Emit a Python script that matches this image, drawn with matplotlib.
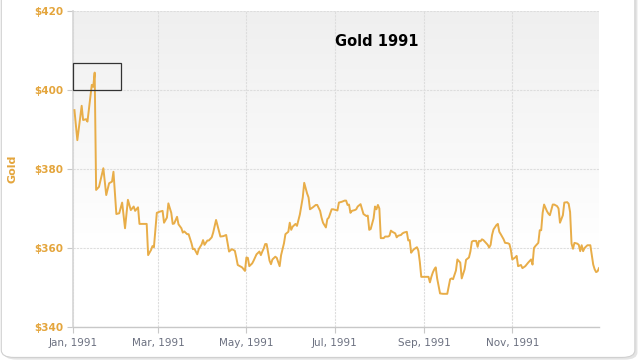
import numpy as np
import matplotlib
matplotlib.use("Agg")
import matplotlib.pyplot as plt
import matplotlib.dates as mdates
from matplotlib.patches import Rectangle, FancyBboxPatch

# ---- data (day offset from 1991-01-01, gold price USD) ----
days = [1, 3, 6, 7, 9, 10, 13, 14, 15, 16, 18, 21, 23, 25, 27, 28, 30, 32, 34, 36,
        38, 40, 42, 43, 45, 46, 51, 52, 54, 55, 56, 58, 60, 62, 63, 65, 66, 68, 69, 70,
        72, 73, 75, 76, 77, 79, 80, 82, 83, 84, 86, 87, 89, 90, 91, 93, 94, 96, 97, 99,
        100, 102, 104, 106, 108, 110, 112, 113, 114, 117, 119, 120, 121, 122, 124, 125, 127, 129, 130, 131,
        132, 133, 134, 136, 137, 138, 140, 141, 143, 144, 146, 147, 149, 150, 151, 152, 154, 155, 157, 159,
        160, 162, 163, 164, 166, 168, 169, 171, 172, 173, 175, 176, 177, 179, 180, 182, 183, 184, 186, 188,
        189, 190, 191, 192, 193, 195, 196, 197, 199, 200, 201, 203, 204, 205, 206, 208, 209, 210, 211, 212,
        213, 215, 216, 218, 219, 220, 221, 223, 224, 225, 227, 228, 229, 231, 232, 233, 234, 235, 236, 238,
        239, 240, 241, 243, 245, 246, 247, 248, 249, 250, 251, 252, 254, 256, 257, 259, 260, 261, 262, 263,
        264, 265, 266, 268, 269, 271, 272, 274, 275, 276, 277, 279, 280, 281, 282, 283, 284, 285, 287, 288,
        289, 290, 291, 293, 294, 295, 296, 298, 299, 301, 302, 303, 304, 306, 307, 308, 310, 311, 313, 315,
        317, 318, 319, 320, 322, 323, 324, 325, 326, 328, 329, 330, 332, 333, 335, 336, 337, 339, 340, 342,
        343, 344, 345, 346, 347, 349, 350, 351, 352, 353, 354, 356, 358, 360, 361, 362, 363, 364]
prices = [394.9, 387.3, 396.0, 392.4, 392.6, 392.0, 401.3, 400.8, 404.4, 374.7, 375.5, 380.2, 373.4, 376.4, 376.8, 379.3, 368.6, 368.8, 371.5, 365.0,
          372.2, 369.6, 370.5, 369.4, 370.3, 366.1, 366.1, 358.2, 359.5, 360.5, 360.2, 368.9, 369.2, 369.4, 366.4, 367.7, 371.3, 368.9, 366.1, 366.2,
          367.9, 366.0, 365.0, 363.9, 364.2, 363.5, 363.5, 361.2, 359.7, 359.8, 358.4, 359.7, 360.9, 362.0, 360.8, 361.9, 361.9, 362.7, 363.9, 367.1,
          365.7, 362.9, 363.0, 363.3, 359.1, 359.7, 359.3, 357.6, 355.7, 355.1, 354.2, 357.6, 357.5, 355.4, 356.1, 356.8, 358.4, 359.1, 358.2, 359.1,
          359.9, 361.0, 361.0, 356.8, 355.9, 357.1, 357.8, 357.5, 355.4, 358.2, 361.2, 363.5, 364.1, 366.4, 364.6, 365.4, 366.1, 365.6, 368.5, 372.8,
          376.5, 373.8, 372.8, 369.8, 370.3, 370.9, 370.9, 369.4, 367.7, 366.4, 365.2, 367.3, 367.7, 369.8, 369.8, 369.6, 369.5, 371.5, 371.7, 372.0,
          372.0, 370.9, 371.0, 368.9, 369.4, 369.6, 369.8, 370.5, 371.1, 369.8, 368.6, 368.1, 368.2, 364.6, 364.8, 367.5, 370.5, 369.8, 370.9, 370.0,
          362.5, 362.5, 362.9, 362.9, 363.1, 364.4, 364.1, 363.7, 362.7, 363.1, 363.3, 363.7, 363.9, 364.1, 361.9, 362.0, 358.8, 359.3, 359.7, 360.2,
          359.3, 356.5, 352.7, 352.7, 352.7, 352.7, 351.3, 352.7, 353.8, 354.6, 355.1, 352.3, 348.5, 348.4, 348.4, 348.4, 350.2, 352.1, 352.3, 352.1,
          353.2, 354.3, 357.1, 356.3, 352.3, 354.6, 357.0, 357.6, 359.1, 361.6, 361.8, 361.8, 360.3, 361.8, 361.7, 362.2, 362.0, 361.6, 360.8, 360.1,
          360.8, 363.3, 364.7, 365.8, 366.1, 364.1, 363.5, 362.2, 361.3, 361.2, 361.0, 359.5, 357.1, 357.6, 358.0, 355.4, 355.7, 354.9, 355.4, 356.3,
          357.1, 355.8, 360.0, 360.5, 361.3, 364.5, 364.5, 368.9, 371.0, 369.3, 368.7, 368.3, 371.0, 371.0, 370.6, 370.0, 366.4, 368.3, 371.5, 371.6,
          371.2, 369.1, 361.1, 359.8, 361.3, 361.1, 360.8, 359.2, 360.7, 359.2, 360.0, 360.7, 360.7, 355.8, 354.6, 353.9, 354.1, 354.9]
y_ticks = [340, 360, 380, 400, 420]
title = "Gold 1991"
y_title = "Gold"
# highlighted box annotation (day range, price range)
box_days = (0, 33)
box_prices = (400, 406.8)

base = np.datetime64("1991-01-01")
dates = base + np.array(days, dtype="timedelta64[D]")

LINE = "#E8AD48"
LABEL = "#E4A53C"

fig = plt.figure(figsize=(6.4, 3.64), dpi=100)
fig.patch.set_facecolor("white")

# outer rounded frame with subtle shadow
shadow = FancyBboxPatch((0.006, 0.012), 0.99, 1.05, boxstyle="round,pad=0,rounding_size=0.02",
                        transform=fig.transFigure, facecolor="#e4e4e4", edgecolor="none", zorder=-3)
frame = FancyBboxPatch((0.002, 0.018), 0.99, 1.05, boxstyle="round,pad=0,rounding_size=0.02",
                       transform=fig.transFigure, facecolor="white", edgecolor="#d0d0d0", lw=0.8, zorder=-2)
fig.patches.extend([shadow, frame])

ax = fig.add_axes([73 / 640, 1 - 327 / 364, 526 / 640, 316 / 364])
ax.set_facecolor("none")

# gradient background (light grey at top, white from ~75% down)
t = np.linspace(0, 1, 256)
grad = np.clip(0.938 + (1.0 - 0.938) * t / 0.75, 0, 1).reshape(-1, 1)
ax.imshow(np.dstack([grad, grad, grad]), extent=[0, 1, 0, 1], origin="upper", transform=ax.transAxes,
          aspect="auto", zorder=0, interpolation="bilinear")

ax.plot(dates, prices, color=LINE, lw=1.4, zorder=3, solid_joinstyle="round")

ax.set_xlim(base, base + np.timedelta64(364, "D"))
ax.set_ylim(340, 420)
ax.set_yticks(y_ticks)
ax.set_yticklabels([f"${v}" for v in y_ticks])

ax.xaxis.set_major_locator(mdates.MonthLocator(bymonth=[1, 3, 5, 7, 9, 11]))
ax.xaxis.set_major_formatter(mdates.DateFormatter("%b, %Y"))

ax.grid(True, color="#dddddd", lw=0.8, linestyle=(0, (2, 1)), zorder=1)
ax.set_axisbelow(True)

for s in ["top", "right"]:
    ax.spines[s].set_visible(False)
ax.spines["left"].set_color("#d6d6d6")
ax.spines["left"].set_linewidth(1.2)
ax.spines["bottom"].set_color("#c8c8c8")
ax.spines["bottom"].set_linewidth(1.0)

ax.tick_params(axis="y", length=4, color="#c8c8c8", pad=3, labelsize=7.5, labelcolor=LABEL)
ax.tick_params(axis="x", length=4, color="#c8c8c8", pad=4, labelsize=7.5, labelcolor="#6b7080")
for lab in ax.get_yticklabels():
    lab.set_fontweight("bold")

ax.set_ylabel(y_title, color=LABEL, fontsize=8, fontweight="bold", labelpad=12)

ax.text(0.578, 0.905, title, transform=ax.transAxes, fontsize=10.5, fontweight="bold",
        color="black", ha="center", va="center", family="DejaVu Sans")

x0 = mdates.date2num(base + np.timedelta64(box_days[0], "D"))
x1 = mdates.date2num(base + np.timedelta64(box_days[1], "D"))
ax.add_patch(Rectangle((x0, box_prices[0]), x1 - x0, box_prices[1] - box_prices[0],
                       fill=False, edgecolor="#333333", lw=0.9, zorder=4, clip_on=False))

fig.savefig("out.png", dpi=100)
